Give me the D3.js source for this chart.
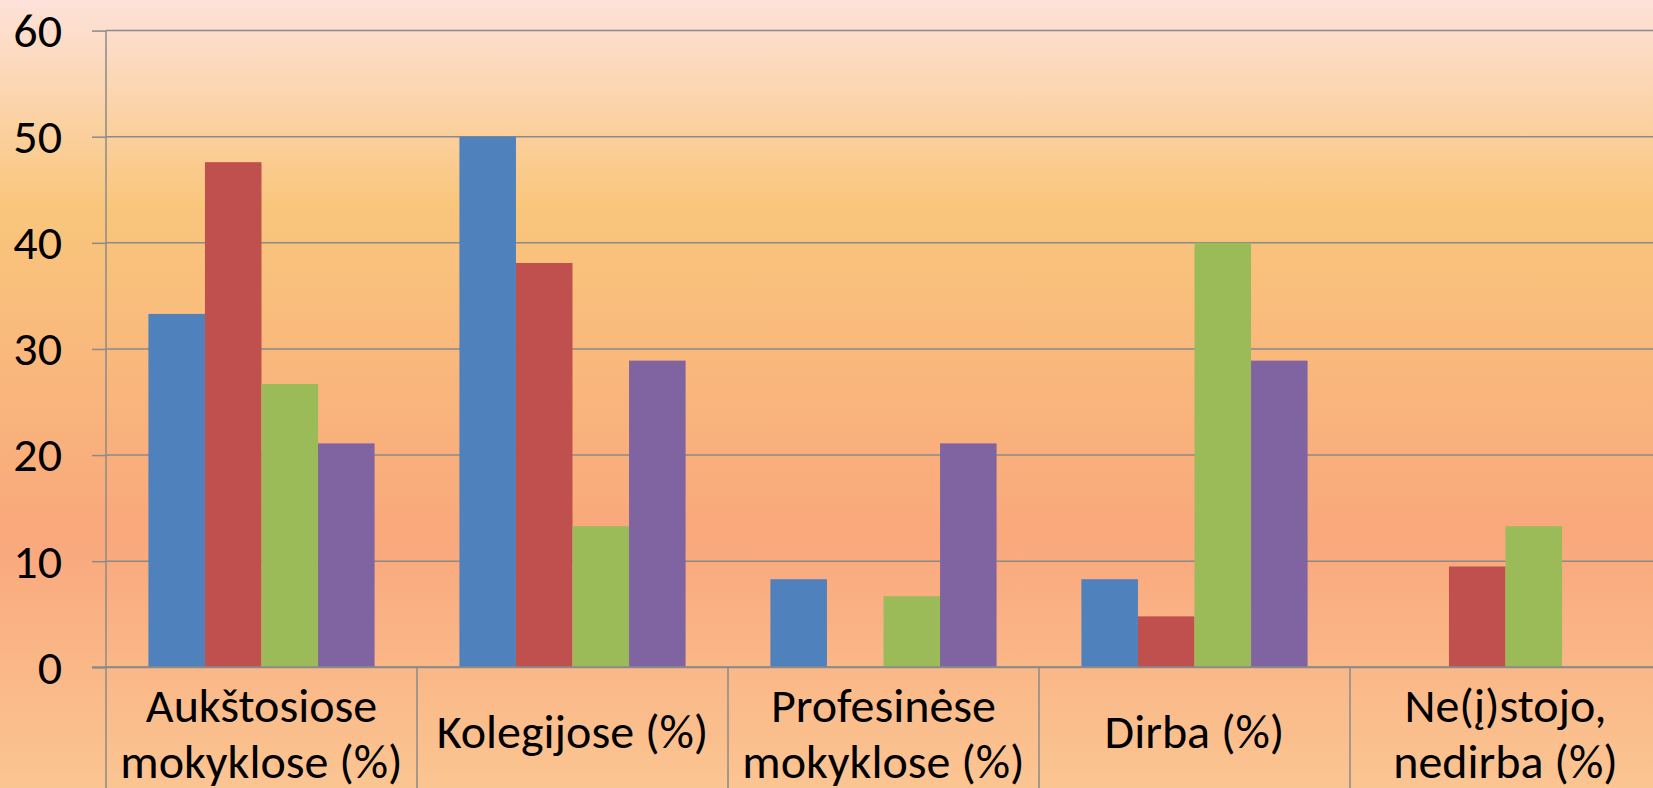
<!DOCTYPE html>
<html>
<head>
<meta charset="utf-8">
<script src="https://cdn.jsdelivr.net/npm/d3@7"></script>
<style>
    html, body { margin: 0; padding: 0; overflow: hidden; }
    text { font-family: Carlito, "Open Sans", Lato, sans-serif; fill: #000; }
</style>
</head>
<body>
<div id="chart"></div>
<script>
// categories (two-line labels split by "|")
const categories = ["Aukštosiose|mokyklose (%)", "Kolegijose (%)", "Profesinėse|mokyklose (%)", "Dirba (%)", "Ne(į)stojo,|nedirba (%)"];
const seriesNames = ["s1", "s2", "s3", "s4"];
const seriesColors = ["#4F81BD", "#C0504D", "#9BBB59", "#8064A2"];
const s1 = [33.3, 50.0, 8.3, 8.3, 0];
const s2 = [47.6, 38.1, 0, 4.8, 9.5];
const s3 = [26.7, 13.3, 6.7, 40.0, 13.3];
const s4 = [21.1, 28.9, 21.1, 28.9, 0];
const yTicks = [0, 10, 20, 30, 40, 50, 60];

const width = 1653, height = 788;
const margin = { left: 106, top: 30.6, bottom: 667.3 };
const catStep = 311;
const fontSize = "48px";

const svg = d3.select("#chart").append("svg")
    .attr("width", width)
    .attr("height", height);

// background gradient
const defs = svg.append("defs");
const grad = defs.append("linearGradient")
    .attr("id", "bg").attr("x1", 0).attr("y1", 0).attr("x2", 0).attr("y2", 1);
[[0, "#FEE2DA"], [0.26, "#F9C67C"], [0.68, "#F9A87C"], [1, "#FBC592"]].forEach(s => {
    grad.append("stop").attr("offset", s[0]).attr("stop-color", s[1]);
});
svg.append("rect").attr("width", width).attr("height", height).attr("fill", "url(#bg)");

const x = d3.scaleBand()
    .domain(categories)
    .range([margin.left, margin.left + catStep * categories.length])
    .padding(0);

const xs = d3.scaleBand()
    .domain(seriesNames)
    .range([0, x.bandwidth()])
    .paddingInner(0)
    .paddingOuter(0.75);

const y = d3.scaleLinear()
    .domain([0, 60])
    .range([margin.bottom, margin.top]);

const gridColor = "#8A8A8A";

// grid lines + y axis
const yAxis = d3.axisLeft(y).tickValues(yTicks).tickSize(14).tickPadding(30).tickFormat(d3.format("d"));
const gy = svg.append("g")
    .attr("transform", `translate(${margin.left},0)`)
    .call(yAxis);
gy.select(".domain").remove();
gy.selectAll(".tick line").attr("stroke", gridColor).attr("stroke-width", 1.5);
gy.selectAll(".tick text").style("font-size", fontSize).attr("dy", "0.33em");

svg.append("g").selectAll("line")
    .data(yTicks)
    .join("line")
    .attr("x1", margin.left).attr("x2", width)
    .attr("y1", d => y(d)).attr("y2", d => y(d))
    .attr("stroke", gridColor).attr("stroke-width", 1.5);

// bars
const series = [s1, s2, s3, s4];
const barData = [];
series.forEach((vals, si) => {
    vals.forEach((v, ci) => barData.push({ cat: categories[ci], s: seriesNames[si], v: v, color: seriesColors[si] }));
});
svg.append("g").selectAll("rect")
    .data(barData.filter(d => d.v > 0))
    .join("rect")
    .attr("x", d => x(d.cat) + xs(d.s))
    .attr("width", xs.bandwidth())
    .attr("y", d => y(d.v))
    .attr("height", d => y(0) - y(d.v))
    .attr("fill", d => d.color);

// vertical axis line
svg.append("line")
    .attr("x1", margin.left).attr("x2", margin.left)
    .attr("y1", y(60)).attr("y2", height)
    .attr("stroke", gridColor).attr("stroke-width", 1.5);

// x axis line and category separators
svg.append("line")
    .attr("x1", margin.left - 14).attr("x2", width)
    .attr("y1", y(0)).attr("y2", y(0))
    .attr("stroke", gridColor).attr("stroke-width", 2);

svg.append("g").selectAll("line")
    .data(categories)
    .join("line")
    .attr("x1", d => x(d) + x.bandwidth()).attr("x2", d => x(d) + x.bandwidth())
    .attr("y1", y(0)).attr("y2", height)
    .attr("stroke", gridColor).attr("stroke-width", 1.5);

// category labels
const labels = svg.append("g").selectAll("text")
    .data(categories)
    .join("text")
    .attr("text-anchor", "middle")
    .style("font-size", fontSize)
    .attr("x", d => x(d) + x.bandwidth() / 2)
    .attr("y", d => d.includes("|") ? 722 : 748);

labels.each(function (d) {
    const parts = d.split("|");
    const t = d3.select(this);
    parts.forEach((p, i) => {
        t.append("tspan")
            .attr("x", x(d) + x.bandwidth() / 2)
            .attr("dy", i === 0 ? 0 : 56)
            .text(p);
    });
});
</script>
</body>
</html>
